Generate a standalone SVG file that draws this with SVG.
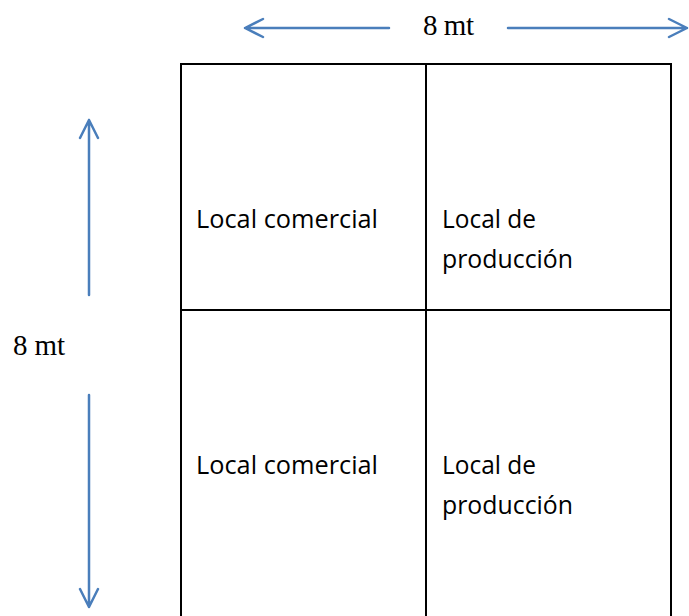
<svg xmlns="http://www.w3.org/2000/svg" width="689" height="616" viewBox="0 0 689 616">
<style>
.dim{fill:none;stroke:#4A7EBB;stroke-width:2.5;stroke-linecap:round;stroke-linejoin:round}
.wall{fill:none;stroke:#000;stroke-width:2}
.lbl{font-family:"Liberation Serif","Times New Roman",serif;font-size:29px;fill:#000}
.cell{font-family:"Open Sans","Noto Sans",sans-serif;font-size:26px;fill:#000}
</style>
<rect width="689" height="616" fill="#fff"/>
<g id="connectors">
<path class="dim" d="M389 28H245M263 19L245 28L263 37"/>
<path class="dim" d="M508 28H687M669 19L687 28L669 37"/>
<path class="dim" d="M89 295V120M80 138L89 120L98 138"/>
<path class="dim" d="M89 395V607M80 589L89 607L98 589"/>
</g>
<g id="label-top"><text class="lbl" x="423" y="35" textLength="51">8 mt</text></g>
<g id="label-left"><text class="lbl" x="13" y="355" textLength="52">8 mt</text></g>
<g id="plan">
<path class="wall" d="M181 630V64H671V630M426 64V630M181 310H671"/>
</g>
<g id="cell-tl"><text class="cell" x="196" y="228" textLength="182" lengthAdjust="spacingAndGlyphs">Local comercial</text></g>
<g id="cell-tr"><text class="cell" x="442" y="228" textLength="94" lengthAdjust="spacingAndGlyphs">Local de</text><text class="cell" x="442" y="268" textLength="131" lengthAdjust="spacingAndGlyphs">producción</text></g>
<g id="cell-bl"><text class="cell" x="196" y="474" textLength="182" lengthAdjust="spacingAndGlyphs">Local comercial</text></g>
<g id="cell-br"><text class="cell" x="442" y="474" textLength="94" lengthAdjust="spacingAndGlyphs">Local de</text><text class="cell" x="442" y="514" textLength="131" lengthAdjust="spacingAndGlyphs">producción</text></g>
</svg>
